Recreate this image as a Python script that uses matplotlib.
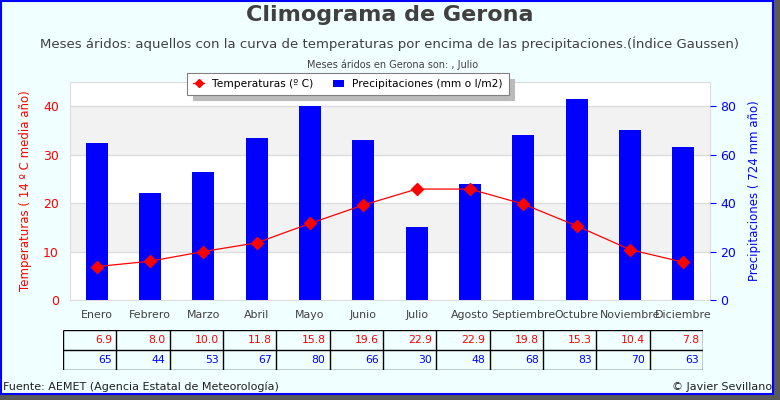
import matplotlib
matplotlib.use('Agg')
from matplotlib import pyplot as plt
from matplotlib.patches import Rectangle
import numpy as np

months = ['Enero', 'Febrero', 'Marzo', 'Abril', 'Mayo', 'Junio', 'Julio',
          'Agosto', 'Septiembre', 'Octubre', 'Noviembre', 'Diciembre']
temperatures = [6.9, 8.0, 10.0, 11.8, 15.8, 19.6, 22.9, 22.9, 19.8, 15.3, 10.4, 7.8]
precipitation = [65, 44, 53, 67, 80, 66, 30, 48, 68, 83, 70, 63]

BG = '#F0FFFF'
RED = '#FF0000'
BLUE = '#0000FF'
GREY = '#404040'

W, H = 780.0, 400.0

def fx(px):
  return px / W

def fy(py):
  return 1 - py / H

fig = plt.figure(figsize=(7.8, 4), dpi=100)
fig.patch.set_facecolor('#5A5A5A')

# background with blue frame and shadow
fig.patches.append(Rectangle((0, fy(395)), fx(774), 1 - fy(395),
                             transform=fig.transFigure, facecolor='#606060',
                             edgecolor='none', zorder=-3))
fig.patches.append(Rectangle((fx(1), fy(394)), fx(772), fy(1) - fy(394),
                             transform=fig.transFigure, facecolor=BG,
                             edgecolor=BLUE, linewidth=1.5, zorder=-2))

rect = [fx(70), fy(300), fx(640), fy(82) - fy(300)]
x = np.arange(len(months))

# background bands
bg = fig.add_axes(rect, zorder=0)
bg.set_xlim(-0.5, 11.5)
bg.set_ylim(0, 45)
bg.set_facecolor('white')
for lo in (10, 30):
  bg.axhspan(lo, lo + 10, color='#F2F2F2', lw=0)
for y in (10, 20, 30, 40):
  bg.axhline(y, color='#DDDDDD', lw=1)
bg.set_xticks([])
bg.set_yticks([])
for s in bg.spines.values():
  s.set_color('#DDDDDD')

# precipitation bars, right axis
ax2 = fig.add_axes(rect, zorder=1)
ax2.patch.set_visible(False)
ax2.set_xlim(-0.5, 11.5)
ax2.set_ylim(0, 90)
bars = ax2.bar(x, precipitation, width=0.41, color=BLUE,
               label='Precipitaciones (mm o l/m2)')
ax2.yaxis.tick_right()
ax2.yaxis.set_label_position('right')
ax2.set_yticks([0, 20, 40, 60, 80])
ax2.set_xticks([])
ax2.tick_params(axis='y', length=4, colors=BLUE, labelsize=9, direction='out')
for s in ax2.spines.values():
  s.set_visible(False)
ax2.set_ylabel('Precipitaciones ( 724 mm año)', color=BLUE, fontsize=8.5, labelpad=8)

# temperature line, left axis
ax = fig.add_axes(rect, zorder=2)
ax.patch.set_visible(False)
ax.set_xlim(-0.5, 11.5)
ax.set_ylim(0, 45)
line, = ax.plot(x, temperatures, color=RED, lw=0.9, marker='D', ms=6,
                mec=RED, mfc=RED, label='Temperaturas (º C)')
for s in ax.spines.values():
  s.set_visible(False)
ax.set_yticks([0, 10, 20, 30, 40])
ax.tick_params(axis='y', length=0, colors=RED, labelsize=9, pad=8)
ax.set_xticks(x)
ax.set_xticklabels(months)
ax.tick_params(axis='x', length=0, colors=GREY, labelsize=7.9, pad=7)
ax.set_ylabel('Temperaturas ( 14 º C media año)', color=RED, fontsize=8.5, labelpad=8)

leg = fig.legend(handles=[line, bars], loc='center',
                 bbox_to_anchor=(fx(348), fy(84)), ncol=2, fontsize=7.7,
                 frameon=True, fancybox=False, edgecolor='#808080',
                 framealpha=1, borderpad=0.55, handlelength=1.0,
                 handletextpad=0.8, columnspacing=1.8, markerscale=0.7,
                 shadow={'color': '#BBBBBB', 'alpha': 1, 'ox': 4, 'oy': -4})
leg.get_frame().set_linewidth(0.8)

fig.text(0.5, fy(15), 'Climograma de Gerona', ha='center', va='center',
         fontsize=16, fontweight='bold', color=GREY)
fig.text(0.5, fy(44), 'Meses áridos: aquellos con la curva de temperaturas por encima de las precipitaciones.(Índice Gaussen)',
         ha='center', va='center', fontsize=9.5, color=GREY)
fig.text(fx(393), fy(65), 'Meses áridos en Gerona son: , Julio', ha='center',
         va='center', fontsize=7, color=GREY)

# data table
tab = fig.add_axes([fx(63), fy(370), fx(640), fy(330) - fy(370)])
tab.set_xlim(-0.5, 11.5)
tab.set_ylim(0, 2)
tab.axis('off')
tab.hlines([0, 1, 2], -0.5, 11.5, color='black', lw=1)
tab.vlines(np.arange(13) - 0.5, 0, 2, color='black', lw=1)
for i in x:
  tab.text(i + 0.42, 1.5, f'{temperatures[i]:.1f}', ha='right', va='center',
           fontsize=7.8, color=RED)
  tab.text(i + 0.42, 0.5, f'{precipitation[i]}', ha='right', va='center',
           fontsize=7.8, color=BLUE)

fig.text(fx(3), fy(387), 'Fuente: AEMET (Agencia Estatal de Meteorología)',
         ha='left', va='center', fontsize=8, color='#202020')
fig.text(fx(772), fy(387), '© Javier Sevillano', ha='right', va='center',
         fontsize=8, color='#202020')

fig.savefig('out.png', dpi=100, facecolor=fig.get_facecolor())
